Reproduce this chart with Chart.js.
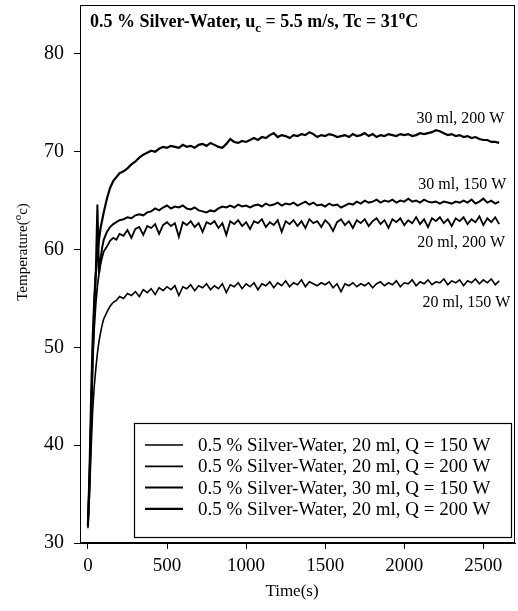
<!DOCTYPE html>
<html>
<head>
<meta charset="utf-8">
<script src="https://cdn.jsdelivr.net/npm/chart.js@4"></script>
<style>
  body { margin: 0; background: #fff; }
  #wrap { width: 518px; height: 611px; position: relative; }
</style>
</head>
<body>
<div id="wrap"><canvas id="chartTemp"></canvas></div>
<script>
// time axis (s)
var time = [0, 10, 20, 30, 40, 50, 60, 70, 80, 90, 100, 120, 140, 160, 180, 200,
  225, 250, 275, 300, 325, 350, 375, 400,
  425, 450, 475, 500, 525, 550, 575, 600,
  625, 650, 675, 700, 725, 750, 775, 800,
  825, 850, 875, 900, 925, 950, 975, 1000,
  1025, 1050, 1075, 1100, 1125, 1150, 1175, 1200,
  1225, 1250, 1275, 1300, 1325, 1350, 1375, 1400,
  1425, 1450, 1475, 1500, 1525, 1550, 1575, 1600,
  1625, 1650, 1675, 1700, 1725, 1750, 1775, 1800,
  1825, 1850, 1875, 1900, 1925, 1950, 1975, 2000,
  2025, 2050, 2075, 2100, 2125, 2150, 2175, 2200,
  2225, 2250, 2275, 2300, 2325, 2350, 2375, 2400,
  2425, 2450, 2475, 2500, 2525, 2550, 2575, 2600];

// 20 ml, 150 W
var temp20ml150 = [31.5, 35, 39.5, 43.5, 46, 47.8, 49.4, 50.6, 51.5, 52.3, 52.9, 53.6, 54.2, 54.6, 54.8, 55.2,
  55.0, 55.5, 55.3, 55.7, 55.2, 55.9, 55.6, 56.0,
  55.4, 56.1, 55.8, 56.2, 55.9, 56.3, 55.3, 56.2,
  56.0, 56.4, 55.8, 56.3, 56.1, 56.5, 55.9, 56.3,
  56.0, 56.5, 55.6, 56.4, 56.2, 56.6, 56.0, 56.5,
  56.2, 56.6, 55.9, 56.5, 56.3, 56.7, 56.1, 56.6,
  56.3, 56.8, 56.2, 56.6, 56.4, 56.9, 56.2, 56.7,
  56.5, 56.3, 56.6, 56.4, 56.7, 56.1, 56.5, 55.7,
  56.5, 56.3, 56.6, 56.2, 56.5, 56.3, 56.6, 56.1,
  56.5, 56.7, 56.3, 56.6, 56.4, 56.8, 56.2, 56.6,
  56.5, 56.9, 56.3, 56.7, 56.5, 56.9, 56.4, 56.7,
  56.6, 57.0, 56.4, 56.8, 56.6, 56.9, 56.3, 56.8,
  56.6, 57.0, 56.5, 56.9, 56.6, 57.0, 56.4, 56.8];

// 20 ml, 200 W
var temp20ml200 = [32.0, 36.5, 43, 48.5, 52, 54.5, 56.3, 57.5, 58.5, 59.2, 59.8, 60.3, 60.9, 61.2, 61.0, 61.6,
  61.4, 62.0, 61.2, 62.1, 62.3, 61.5, 62.4, 62.2,
  62.6, 61.6, 62.5, 62.8, 62.4, 62.7, 61.3, 62.8,
  62.5, 62.9, 62.3, 62.7, 61.8, 62.8, 62.6, 62.9,
  62.2, 62.7, 61.5, 62.9, 62.6, 63.0, 62.4, 62.8,
  62.1, 62.9, 62.7, 63.1, 62.3, 62.8, 62.5, 63.0,
  61.8, 62.9, 62.6, 63.0, 62.4, 62.9, 62.2, 63.1,
  62.7, 62.9, 62.3, 63.0, 62.6, 61.9, 62.8, 63.1,
  62.5, 62.9, 62.2, 63.0, 62.7, 63.1, 62.4, 62.9,
  63.2, 62.6, 63.0, 62.2, 63.1, 62.8, 63.2, 62.5,
  63.0, 62.7, 63.3, 62.6, 63.1, 62.3, 63.2, 62.9,
  63.3, 62.7, 63.1, 62.4, 63.2, 62.9, 63.3, 62.6,
  63.1, 62.8, 63.4, 62.5, 63.2, 62.8, 63.3, 62.6];

// 30 ml, 150 W
var temp30ml150 = [31.8, 37.5, 45, 51, 55, 57.8, 64.6, 57.6, 59.0, 60.2, 61.0, 61.8, 62.3, 62.6, 62.8, 63.0,
  63.1, 63.3, 63.2, 63.5, 63.6, 63.5, 63.8, 63.9,
  64.2, 64.0, 64.3, 64.5, 64.2, 64.4, 64.3, 64.5,
  64.2, 64.1, 64.3, 64.0, 63.9, 63.8, 64.0, 63.9,
  64.2, 64.4, 64.3, 64.5, 64.3, 64.6, 64.4, 64.5,
  64.3, 64.5, 64.6, 64.4, 64.7, 64.5, 64.6, 64.8,
  64.5, 64.7, 64.6, 64.8, 64.5, 64.7, 64.9, 64.6,
  64.8, 64.5, 64.6, 64.4, 64.7, 64.5, 64.6, 64.3,
  64.5, 64.7, 64.6, 64.9, 64.7, 65.0, 64.8, 64.9,
  65.1, 64.8, 65.0, 64.9, 65.1, 64.8, 65.0, 64.9,
  65.2, 64.9, 65.0, 64.8, 65.1, 64.9, 64.8, 64.9,
  64.7, 64.9, 64.8, 64.7, 64.9, 64.8, 65.0, 64.8,
  65.1, 64.7, 64.9, 65.2, 64.8, 65.0, 64.7, 64.9];

// 30 ml, 200 W
var temp30ml200 = [31.7, 36, 42, 49, 54, 57.5, 59.5, 61, 62.2, 63, 63.8, 65.2, 66.3, 67, 67.4, 67.8,
  68.0, 68.3, 68.7, 69.0, 69.4, 69.7, 69.9, 70.1,
  70.0, 70.3, 70.5, 70.4, 70.6, 70.5, 70.4, 70.7,
  70.5, 70.6, 70.4, 70.7, 70.8, 70.6, 70.9, 70.7,
  70.5, 70.4, 70.8, 71.3, 71.0, 70.9, 71.1, 71.0,
  71.2, 71.4, 71.2, 71.5, 71.4, 71.7, 71.9, 71.5,
  71.7, 71.6, 71.4, 71.7, 71.6, 71.8, 71.7, 72.0,
  71.8, 71.5, 71.7, 71.6, 71.8, 71.7, 71.5, 71.6,
  71.7, 71.5, 71.8, 71.6, 71.7, 71.9, 71.6, 71.8,
  71.5, 71.7, 71.6, 71.8, 71.7, 71.6, 71.8, 71.7,
  71.8, 71.6, 71.7, 71.9, 71.8, 71.9, 72.0, 72.2,
  72.1, 71.9, 71.7, 71.8, 71.6, 71.7, 71.5, 71.6,
  71.4, 71.5, 71.3, 71.2, 71.2, 71.0, 71.0, 70.9];

var legendLabels = [
  '0.5 % Silver-Water, 20 ml, Q = 150 W',
  '0.5 % Silver-Water, 20 ml, Q = 200 W',
  '0.5 % Silver-Water, 30 ml, Q = 150 W',
  '0.5 % Silver-Water, 20 ml, Q = 200 W'
];
var curveLabels = ['20 ml, 150 W', '20 ml, 200 W', '30 ml, 150 W', '30 ml, 200 W'];
var xTicks = [0, 500, 1000, 1500, 2000, 2500];
var yTicks = [30, 40, 50, 60, 70, 80];

var SERIF = '"Liberation Serif", "Times New Roman", serif';

function toPoints(values) {
  var pts = [];
  for (var i = 0; i < values.length && i < time.length; i++) {
    pts.push({ x: time[i], y: values[i] });
  }
  return pts;
}

// draw text made of runs, some of them sub/superscript
function drawRuns(ctx, runs, x, y, size, weight) {
  ctx.textBaseline = 'alphabetic';
  ctx.textAlign = 'left';
  runs.forEach(function (r) {
    var s = r.sub || r.sup ? size * 0.72 : size;
    var dy = r.sub ? size * 0.3 : r.sup ? -size * 0.42 : 0;
    ctx.font = weight + ' ' + s + 'px ' + SERIF;
    ctx.fillText(r.t, x, y + dy);
    x += ctx.measureText(r.t).width;
  });
}

var decorPlugin = {
  id: 'decor',
  afterDraw: function (chart) {
    var ctx = chart.ctx;
    var area = chart.chartArea;
    var xs = chart.scales.x;
    var ys = chart.scales.y;
    ctx.save();
    ctx.fillStyle = '#000';
    ctx.strokeStyle = '#000';

    // frame
    ctx.lineWidth = 1;
    ctx.strokeRect(area.left + 0.5, area.top + 0.5, area.right - area.left - 1, area.bottom - area.top - 1);

    // title inside plot
    drawRuns(ctx, [
      { t: '0.5 % Silver-Water, u' }, { t: 'c', sub: true },
      { t: ' = 5.5 m/s, Tc = 31' }, { t: 'o', sup: true }, { t: 'C' }
    ], area.left + 10, area.top + 22, 18, 'bold');

    // curve labels
    ctx.font = '16px ' + SERIF;
    ctx.textAlign = 'center';
    ctx.textBaseline = 'middle';
    var labelPos = [[2393, 54.6], [2360, 60.7], [2367, 66.65], [2355, 73.4]];
    curveLabels.forEach(function (txt, i) {
      ctx.fillText(txt, xs.getPixelForValue(labelPos[i][0]), ys.getPixelForValue(labelPos[i][1]));
    });

    // legend box
    var bx = 134, by = 423, bw = 377, bh = 114;
    ctx.fillStyle = '#fff';
    ctx.fillRect(bx, by, bw, bh);
    ctx.fillStyle = '#000';
    ctx.lineWidth = 1.2;
    ctx.strokeRect(bx + 0.5, by + 0.5, bw, bh);
    ctx.font = '19px ' + SERIF;
    ctx.textAlign = 'left';
    ctx.textBaseline = 'middle';
    chart.data.datasets.forEach(function (ds, i) {
      var yy = by + 22 + i * 21.3;
      ctx.lineWidth = ds.borderWidth;
      ctx.beginPath();
      ctx.moveTo(bx + 11, yy);
      ctx.lineTo(bx + 49, yy);
      ctx.stroke();
      ctx.fillText(ds.label, bx + 64, yy + 1);
    });

    // axis titles
    ctx.textAlign = 'center';
    ctx.font = '17px ' + SERIF;
    ctx.fillText('Time(s)', 292, 592);

    ctx.translate(27, 252);
    ctx.rotate(-Math.PI / 2);
    ctx.font = '15px ' + SERIF;
    var w1 = ctx.measureText('Temperature(').width;
    ctx.font = '10.8px ' + SERIF;
    var w2 = ctx.measureText('o').width;
    ctx.font = '15px ' + SERIF;
    var w3 = ctx.measureText('c)').width;
    drawRuns(ctx, [{ t: 'Temperature(' }, { t: 'o', sup: true }, { t: 'c)' }], -(w1 + w2 + w3) / 2, 0, 15, 'normal');
    ctx.restore();
  }
};

var widths = [1.6, 1.8, 2, 2.2];
var series = [temp20ml150, temp20ml200, temp30ml150, temp30ml200];

var dataLines = {
  datasets: series.map(function (s, i) {
    return {
      label: legendLabels[i],
      data: toPoints(s),
      borderColor: '#000',
      backgroundColor: '#000',
      borderWidth: widths[i],
      pointRadius: 0,
      tension: 0,
      fill: false
    };
  })
};

var configLines = {
  type: 'line',
  data: dataLines,
  options: {
    responsive: true,
    maintainAspectRatio: false,
    animation: false,
    devicePixelRatio: 1,
    layout: { padding: { top: 5, right: 3, left: 0, bottom: 0 } },
    plugins: { legend: { display: false }, tooltip: { enabled: false } },
    scales: {
      x: {
        type: 'linear',
        min: -50,
        max: 2700,
        afterFit: function (scale) {
          scale.height = 68;
          scale.paddingLeft = 0;
          scale.paddingRight = 0;
        },
        afterBuildTicks: function (scale) {
          scale.ticks = xTicks.map(function (v) { return { value: v }; });
        },
        ticks: {
          color: '#000', padding: 6, maxRotation: 0, font: { family: SERIF, size: 19 },
          callback: function (v) { return String(v); }
        },
        grid: { drawOnChartArea: false, color: '#000', tickLength: 6 },
        border: { color: '#000' }
      },
      y: {
        min: 30,
        max: 85,
        afterFit: function (scale) {
          scale.width = 80;
          scale.paddingTop = 0;
          scale.paddingBottom = 0;
        },
        afterBuildTicks: function (scale) {
          scale.ticks = yTicks.map(function (v) { return { value: v }; });
        },
        ticks: { color: '#000', padding: 10, font: { family: SERIF, size: 20 } },
        grid: { drawOnChartArea: false, color: '#000', tickLength: 6 },
        border: { color: '#000' }
      }
    }
  },
  plugins: [decorPlugin]
};

var chartLines = new Chart(document.getElementById('chartTemp'), configLines);
</script>
</body>
</html>
